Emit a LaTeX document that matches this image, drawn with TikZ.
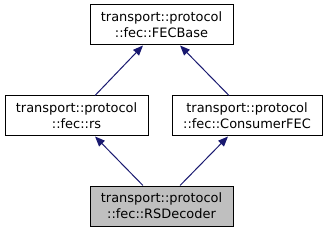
\documentclass[tikz,border=0pt]{standalone}
\usepackage{fontspec}
\setmainfont{DejaVu Sans}
\usepackage{xcolor}
\usepackage{tikz}
\usetikzlibrary{arrows.meta, positioning}
\definecolor{edgeblue}{HTML}{191970}
\definecolor{focusgray}{HTML}{BFBFBF}
\tikzset{
    cls/.style={rectangle, draw=black, line width=0.75pt, fill=white, minimum width=107.25pt, minimum height=30pt, inner sep=0pt, align=center, font=\fontsize{9.7}{12}\selectfont},
    clsfocus/.style={cls, fill=focusgray},
    inherit/.style={{Triangle[length=7.5pt, width=6pt]}-, draw=edgeblue, line width=0.75pt}
}
\begin{document}
\begin{tikzpicture}[node distance=37.5pt and 1cm]
  \useasboundingbox (0,0) rectangle (245.25pt,-173.25pt);
  \node[cls] (base) at (121.125pt,-18.75pt) {transport::protocol\\::fec::FECBase};
  \node[cls, below=37.5pt of base, xshift=-63.75pt] (rs) {transport::protocol\\::fec::rs};
  \node[cls, below=37.5pt of base, xshift=64.125pt, minimum width=112.5pt] (cfec) {transport::protocol\\::fec::ConsumerFEC};
  \node[clsfocus, below=36.75pt of rs, xshift=63.75pt] (dec) {transport::protocol\\::fec::RSDecoder};
  \draw[inherit] ([xshift=-13.9pt]base.south) -- ([xshift=13.9pt]rs.north);
  \draw[inherit] ([xshift=13.9pt]base.south) -- ([xshift=-13.5pt]cfec.north);
  \draw[inherit] ([xshift=13.9pt]rs.south) -- ([xshift=-13.9pt]dec.north);
  \draw[inherit] ([xshift=-14.25pt]cfec.south) -- ([xshift=13.9pt]dec.north);
\end{tikzpicture}
\end{document}
